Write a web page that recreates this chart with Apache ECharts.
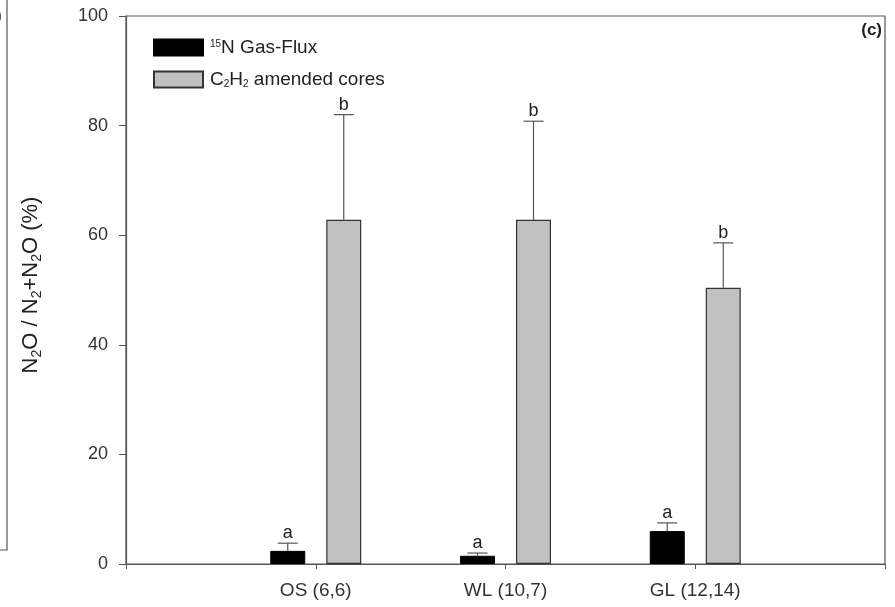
<!DOCTYPE html>
<html><head><meta charset="utf-8">
<script src="https://cdn.jsdelivr.net/npm/echarts@6/dist/echarts.min.js"></script>
<style>html,body{margin:0;padding:0;background:#fff}#c{width:895px;height:607px}</style>
</head><body><div id="c"></div>
<script>
var categories = ['OS (6,6)', 'WL (10,7)', 'GL (12,14)'];
var gasFlux = [2.4, 1.5, 6.0];
var gasFluxErr = [1.4, 0.5, 1.5];
var gasFluxLetters = ['a', 'a', 'a'];
var c2h2 = [62.8, 62.8, 50.4];
var c2h2Err = [19.2, 18.0, 8.2];
var c2h2Letters = ['b', 'b', 'b'];
var yTicks = [0, 20, 40, 60, 80, 100];

var FONT = 'Liberation Sans, Arial, sans-serif';
function pts(vals) { return vals.map(function (v, i) { return [i + 1, v]; }); }
function errPts(vals, errs, letters) {
  return vals.map(function (v, i) { return [i + 1, v, v + errs[i], letters[i]]; });
}
function errSeries(name, data, offset) {
  return {
    type: 'custom', name: name + '_err', z: 5, silent: true,
    data: data,
    renderItem: function (params, api) {
      var p0 = api.coord([api.value(0), api.value(1)]);
      var p1 = api.coord([api.value(0), api.value(2)]);
      var x = p0[0] + offset;
      var half = 10;
      return {
        type: 'group',
        children: [
          { type: 'line', shape: { x1: x, y1: p0[1], x2: x, y2: p1[1] }, style: { stroke: '#555', lineWidth: 1.2 } },
          { type: 'line', shape: { x1: x - half, y1: p1[1], x2: x + half, y2: p1[1] }, style: { stroke: '#555', lineWidth: 1.2 } },
          { type: 'text', x: x, y: p1[1] - 1, style: { text: api.value(3), fill: '#222', font: '18px ' + FONT, textAlign: 'center', textVerticalAlign: 'bottom' } }
        ]
      };
    }
  };
}

var chart = echarts.init(document.getElementById('c'));
chart.setOption({
  animation: false,
  backgroundColor: '#fff',
  grid: { left: 126, right: 10, top: 16, bottom: 43, show: true, borderColor: '#555', borderWidth: 1.2, backgroundColor: 'transparent' },
  legend: {
    orient: 'vertical', left: 148, top: 33, itemWidth: 49, itemHeight: 16, itemGap: 12,
    icon: 'rect',
    data: ['15N', 'C2H2'],
    formatter: function (n) { return n === '15N' ? '{sup|15}N Gas-Flux' : 'C{sub|2}H{sub|2} amended cores'; },
    textStyle: { fontFamily: FONT, fontSize: 19, color: '#222', lineHeight: 16, padding: [0, 0, 0, 2],
      rich: { sup: { fontSize: 10, lineHeight: 16, verticalAlign: 'top', padding: [0, 0, 8, 0], fontFamily: FONT, color: '#222' },
              sub: { fontSize: 10, lineHeight: 16, padding: [10, 0, 0, 0], fontFamily: FONT, color: '#222' } } }
  },
  xAxis: {
    type: 'value', min: 0, max: 4, interval: 1,
    axisLine: { show: true, lineStyle: { color: '#555', width: 1.2 } },
    axisTick: { show: true, inside: false, length: 5, lineStyle: { color: '#555' } },
    splitLine: { show: false },
    axisLabel: { fontFamily: FONT, fontSize: 19, color: '#333', margin: 17,
      formatter: function (v) { return (v >= 1 && v <= 3) ? categories[v - 1] : ''; } }
  },
  yAxis: {
    type: 'value', min: yTicks[0], max: yTicks[yTicks.length - 1], interval: 20,
    axisLine: { show: true, lineStyle: { color: '#555', width: 1.2 } },
    axisTick: { show: true, inside: false, length: 7, lineStyle: { color: '#555' } },
    splitLine: { show: false },
    axisLabel: { fontFamily: FONT, fontSize: 18, color: '#333', margin: 18 },
    name: 'N{sub|2}O / N{sub|2}+N{sub|2}O (%)',
    nameLocation: 'middle', nameRotate: 90, nameGap: 82,
    nameTextStyle: { fontFamily: FONT, fontSize: 22, color: '#222', padding: [0, 0, 0, 10],
      rich: { sub: { fontSize: 14, padding: [12, 0, 0, 0], fontFamily: FONT, color: '#222' } } }
  },
  series: [
    { type: 'bar', name: '15N', data: pts(gasFlux), barWidth: 35, barGap: '60%',
      itemStyle: { color: '#000', borderColor: '#000', borderWidth: 1 } },
    { type: 'bar', name: 'C2H2', data: pts(c2h2), barWidth: 35, barGap: '60%',
      itemStyle: { color: '#c0c0c0', borderColor: '#333', borderWidth: 1.2 } },
    errSeries('15N', errPts(gasFlux, gasFluxErr, gasFluxLetters), -28),
    errSeries('C2H2', errPts(c2h2, c2h2Err, c2h2Letters), 28)
  ],
  graphic: [
    { type: 'text', right: 13, top: 22, style: { text: '(c)', font: 'bold 17px ' + FONT, fill: '#222' } },
    { type: 'polyline', shape: { points: [[7, 0], [7, 550], [0, 550]] }, style: { stroke: '#555', lineWidth: 1.2, fill: null } },
    { type: 'text', left: -4, top: 8, style: { text: ')', font: 'bold 17px ' + FONT, fill: '#222' } }
  ]
});
</script></body></html>
